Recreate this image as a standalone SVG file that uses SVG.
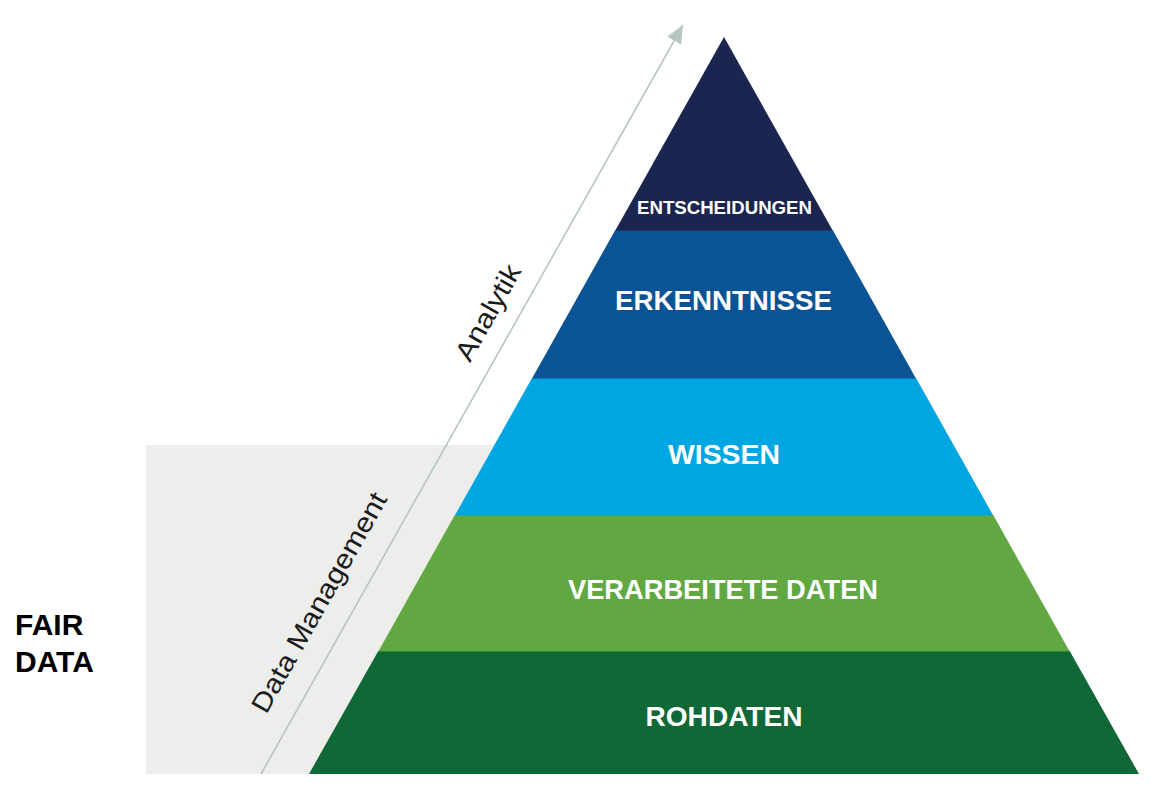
<svg xmlns="http://www.w3.org/2000/svg" width="1158" height="799" viewBox="0 0 1158 799">
<defs>
<style>
.lbl{font-family:"Liberation Sans",Arial,sans-serif;font-weight:bold;fill:#ffffff;text-anchor:middle}
.side{font-family:"Liberation Sans",Arial,sans-serif;font-size:27px;fill:#1a1a1a;text-anchor:middle}
.fair{font-family:"Liberation Sans",Arial,sans-serif;font-weight:bold;font-size:30px;fill:#000000}
</style>
<marker id="ah" markerWidth="18" markerHeight="16" refX="18" refY="8" orient="auto" markerUnits="userSpaceOnUse">
<path d="M0,0 L18,8 L0,16 Z" fill="#b7c6be"/>
</marker>
</defs>
<rect width="1158" height="799" fill="#ffffff"/>
<rect id="fair-area" x="146" y="445" width="400" height="329" fill="#ededeb"/>
<g id="fair-label">
<text class="fair" x="15" y="635">FAIR</text>
<text class="fair" x="15" y="672">DATA</text>
</g>
<g id="connectors">
<line x1="261" y1="774" x2="683" y2="25" stroke="#b7c6be" stroke-width="1.6" marker-end="url(#ah)"/>
</g>
<g id="rohdaten">
<polygon points="378.3,651 1069.7,651 1139,774 309,774" fill="#0f6835"/>
<text class="lbl" x="724" y="726" font-size="28" textLength="157" lengthAdjust="spacingAndGlyphs">ROHDATEN</text>
</g>
<g id="verarbeitete-daten">
<polygon points="454.8,515 993.2,515 1069.7,651.5 378.3,651.5" fill="#61a843"/>
<text class="lbl" x="723" y="599" font-size="28" textLength="310" lengthAdjust="spacingAndGlyphs">VERARBEITETE DATEN</text>
</g>
<g id="wissen">
<polygon points="532,378 916,378 993.2,515.5 454.8,515.5" fill="#00a6e1"/>
<text class="lbl" x="724" y="464" font-size="28" textLength="112" lengthAdjust="spacingAndGlyphs">WISSEN</text>
</g>
<g id="erkenntnisse">
<polygon points="615.3,230 832.7,230 916,378.5 532,378.5" fill="#0a5394"/>
<text class="lbl" x="723.5" y="310" font-size="28" textLength="217" lengthAdjust="spacingAndGlyphs">ERKENNTNISSE</text>
</g>
<g id="entscheidungen">
<polygon points="724,37 832.7,230.5 615.3,230.5" fill="#1a2650"/>
<text class="lbl" x="724.5" y="214" font-size="19" textLength="175" lengthAdjust="spacingAndGlyphs">ENTSCHEIDUNGEN</text>
</g>
<g id="side-labels">
<text class="side" transform="translate(327,607) rotate(-60.6)" textLength="248" lengthAdjust="spacingAndGlyphs">Data Management</text>
<text class="side" transform="translate(496,317) rotate(-60.6)" textLength="106" lengthAdjust="spacingAndGlyphs">Analytik</text>
</g>
</svg>
